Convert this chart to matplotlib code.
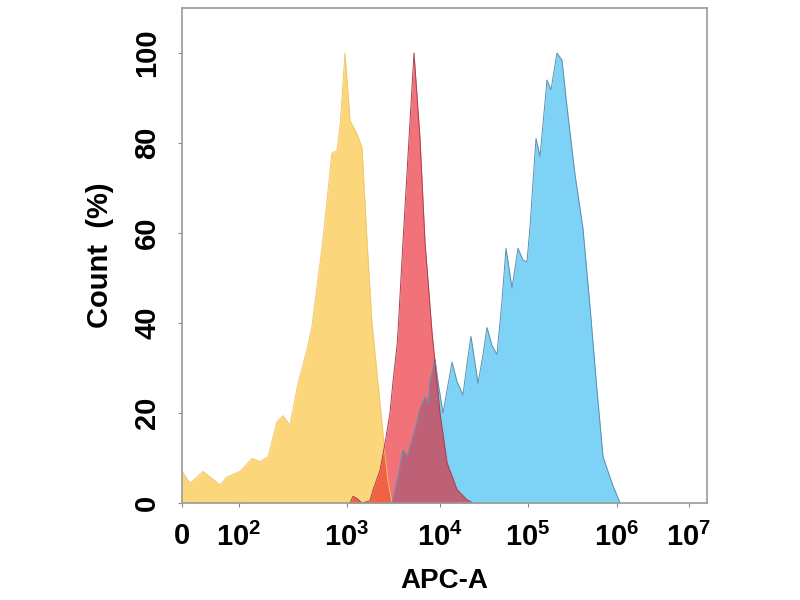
import numpy as np
import matplotlib
matplotlib.use("Agg")
import matplotlib.pyplot as plt

plt.rcParams['font.family'] = ['Liberation Sans', 'DejaVu Sans']
plt.rcParams['mathtext.fontset'] = 'custom'
plt.rcParams['mathtext.rm'] = 'Liberation Sans:bold'
plt.rcParams['mathtext.bf'] = 'Liberation Sans:bold'

# Data (APC-A intensity, count %)
yellow_x = [0, 1.9, 5.5, 21.6, 38, 102, 132, 156, 186, 225, 255, 296, 352, 425, 473,
            527, 598, 724, 809, 867, 958, 1077, 1281, 1449, 1641, 1857, 2102, 2379,
            2560, 2756, 3050]
yellow_y = [7.0, 4.4, 7.0, 4.0, 5.8, 7.0, 9.9, 9.2, 10.3, 18.1, 19.4, 17.3, 26.6, 34,
            39.2, 48, 58.4, 77.7, 78.4, 84.4, 100, 85, 82, 79, 58.4, 40, 28.8, 17.7,
            11, 5, 0]

red_x = [1077, 1160, 1281, 1449, 1766, 1904, 2265, 2563, 2899, 3124, 3451, 3535, 3999,
         4642, 5253, 6095, 6897, 8204, 9060, 10000, 12010, 15600, 20280, 23710]
red_y = [0, 1.5, 1.0, 0, 0.5, 2.9, 7.3, 13.3, 20, 27, 35, 38, 58, 81, 100, 81, 58, 38,
         29, 20, 9, 3, 0.7, 0]

blue_x = [3048, 3535, 3999, 4416, 4999, 5664, 6095, 6897, 7430, 7807, 8832, 9507, 10820,
          12010, 13690, 15600, 18250, 20280, 22500, 27030, 30830, 34220, 38990, 44460,
          50650, 56230, 65790, 76930, 87700, 97420, 105300, 123000, 136500, 163500,
          181200, 211700, 241000, 274300, 337300, 414800, 497600, 596100, 696600,
          879200, 1101000]
blue_y = [0, 5.8, 11.8, 10.3, 14, 18, 21, 23.6, 22, 27, 32, 27, 20, 25, 31.3, 27, 24,
          31, 37, 26.6, 33, 39, 35, 33, 45, 56.6, 47.8, 56.6, 54, 53.6, 61.4, 81, 77,
          94, 91.8, 100, 98.4, 88, 73, 61, 43.6, 25, 10.3, 4.4, 0]

tick_vals = [1, 1e2, 1e3, 1e4, 1e5, 1e6, 1e7]
tick_labels = ['0', r'$10^{2}$', r'$10^{3}$', r'$10^{4}$', r'$10^{5}$', r'$10^{6}$', r'$10^{7}$']

# biexponential-like display axis: decade -> axis position
dec = np.array([0, 2, 3, 4, 5, 6, 7, 8])
pos = np.array([0, 57, 165, 258, 346, 435, 507, 579])


def fwd(v):
    v = np.asarray(v, dtype=float)
    return np.interp(np.log10(np.clip(v, 1, None)), dec, pos)


def inv(p):
    return 10 ** np.interp(p, pos, dec)


fig = plt.figure(figsize=(8, 6), dpi=100)
ax = fig.add_axes([182 / 800, 1 - 503 / 600, 525 / 800, 495 / 600])
ax.set_xscale('function', functions=(fwd, inv))

ax.fill_between(yellow_x, yellow_y, color='#FCD67A', lw=0)
ax.plot(yellow_x, yellow_y, color='#F0C86A', lw=0.7)
ax.fill_between(blue_x, blue_y, color='#7DD2F5', lw=0)
ax.plot(blue_x, blue_y, color='#5A8FAE', lw=0.7)
ax.fill_between(red_x, red_y, color='#EA1421', alpha=0.6, lw=0)
ax.plot(red_x, red_y, color='#A8404E', lw=0.7)

ax.set_xlim(1, inv(525))
ax.set_ylim(0, 110)
ax.set_xticks(tick_vals)
ax.set_xticklabels(tick_labels)
ax.set_yticks([0, 20, 40, 60, 80, 100])
ax.set_yticklabels(['0', '20', '40', '60', '80', '100'], rotation=90, va='center')

for s in ax.spines.values():
    s.set_color('#9A9A9A')
    s.set_linewidth(1.2)
ax.tick_params(axis='both', length=3, color='#888888', labelsize=21)
ax.tick_params(axis='x', pad=11)
ax.tick_params(axis='y', pad=12)
for t in ax.get_xticklabels() + ax.get_yticklabels():
    t.set_fontweight('bold')

ax.set_xlabel('APC-A', fontsize=20, fontweight='bold', labelpad=12)
ax.set_ylabel('Count  (%)', fontsize=21, fontweight='bold', labelpad=14)

fig.savefig('out.png', dpi=100)
